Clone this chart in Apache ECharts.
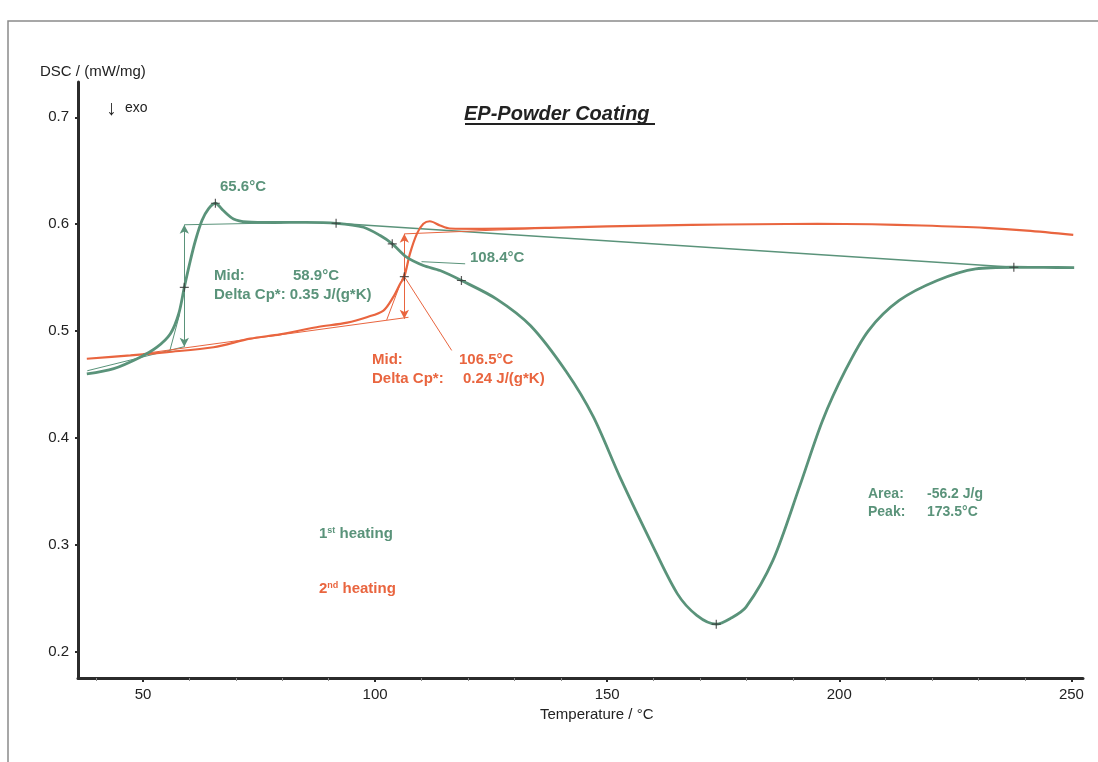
<!DOCTYPE html>
<html>
<head>
<meta charset="utf-8">
<script src="https://cdn.jsdelivr.net/npm/echarts@6/dist/echarts.min.js"></script>
<style>
html,body{margin:0;padding:0;background:#fff;}
#chart{width:1098px;height:762px;}
</style>
</head>
<body>
<div id="chart"></div>
<script>
// ---- data ----
const xTickLabels = [50, 100, 150, 200, 250];
const xMinorTicks = [40, 60, 70, 80, 90, 110, 120, 130, 140, 160, 170, 180, 190, 210, 220, 230, 240];
const yTickLabels = [0.2, 0.3, 0.4, 0.5, 0.6, 0.7];

const heat1T = [37.9, 43.7, 49.4, 53.0, 55.9, 57.7, 58.9, 60.2, 61.3, 62.7, 64.1, 65.6, 67.3, 69.5, 72.4, 78.1, 85, 91.6, 97.5, 101.1, 103.7, 106.8, 110.4, 114, 118.6, 126.2, 133.5, 141.2, 147, 152.7, 159.3, 165.1, 169.3, 173.5, 176.6, 179.9, 185.7, 191.4, 196.4, 201.3, 206.3, 212.9, 221.1, 229.4, 237.6, 244, 250.6];
const heat1V = [0.460, 0.465, 0.4757, 0.485, 0.4976, 0.5163, 0.541, 0.566, 0.5848, 0.6035, 0.6144, 0.6196, 0.6128, 0.605, 0.6022, 0.6016, 0.6017, 0.6009, 0.5972, 0.5894, 0.5817, 0.5692, 0.5614, 0.5567, 0.5474, 0.530, 0.505, 0.462, 0.420, 0.364, 0.304, 0.2546, 0.2343, 0.226, 0.2315, 0.242, 0.2857, 0.3542, 0.4165, 0.4633, 0.5006, 0.5287, 0.5474, 0.5583, 0.5598, 0.5596, 0.5595];

const heat2T = [37.9, 47.3, 55.2, 65.2, 73.1, 79.5, 87.4, 94, 98.2, 101.8, 103.9, 105.4, 106.3, 107.5, 109, 110.4, 111.8, 114, 116.1, 123, 137.6, 150, 168.2, 182, 195.3, 207, 217.8, 231.4, 240.4, 250.4];
const heat2V = [0.4742, 0.4773, 0.4804, 0.485, 0.4930, 0.4970, 0.5037, 0.508, 0.5131, 0.5193, 0.5318, 0.5443, 0.551, 0.5723, 0.591, 0.6004, 0.6028, 0.5988, 0.5960, 0.5957, 0.5966, 0.598, 0.5994, 0.6000, 0.6003, 0.6000, 0.5988, 0.5966, 0.5941, 0.5901];

// evaluation construction lines [T, value]
const g1UpperTangent = [[58.9, 0.5995], [80, 0.6013]];
const g1LowerTangent = [[38, 0.463], [58.9, 0.4855]];
const g1Inflection   = [[55.7, 0.4804], [57.9, 0.516]];
const g1Step         = [[58.9, 0.5995], [58.9, 0.4855]];
const g1PeakBaseline = [[91.6, 0.6009], [237.6, 0.5598]];
const g1OnsetLeader  = [[110, 0.5650], [119.4, 0.5630]];

const g2UpperTangent = [[106.3, 0.591], [137.6, 0.5966]];
const g2LowerTangent = [[50, 0.4790], [107.2, 0.513]];
const g2Inflection   = [[102.5, 0.5105], [106.8, 0.560]];
const g2Step         = [[106.3, 0.591], [106.3, 0.5116]];
const g2Leader       = [[106.3, 0.551], [116.5, 0.482]];

const markPts1 = [[65.6, 0.6196], [58.9, 0.541], [91.6, 0.6009], [103.7, 0.5817], [118.6, 0.5474], [173.5, 0.226], [237.6, 0.5598]];
const markPts2 = [[106.3, 0.551]];

// ---- styling ----
const GREEN = '#5a937a';
const ORANGE = '#e9653f';
const FONT = '"Liberation Sans", Arial, sans-serif';

const zip = (a, b) => a.map((t, i) => [t, b[i]]);

function thin(data, color, w) {
  return {
    type: 'line', data: data, showSymbol: false, silent: true,
    lineStyle: { color: color, width: w || 1 }, z: 3, animation: false
  };
}
function arrow(seg, color) {
  return {
    type: 'line', data: [], silent: true, animation: false,
    markLine: {
      silent: true, animation: false,
      symbol: ['arrow', 'arrow'], symbolSize: [7, 9],
      label: { show: false },
      lineStyle: { color: color, width: 1, type: 'solid' },
      emphasis: { disabled: true },
      data: [[{ coord: seg[0] }, { coord: seg[1] }]]
    }
  };
}

function txt(x, y, text, color, size, weight, rich) {
  const st = { x: x, y: y + 2, text: text, fill: color, verticalAlign: 'middle', align: 'left',
               font: (weight || 'bold') + ' ' + size + 'px ' + FONT };
  if (rich) st.rich = rich;
  return { type: 'text', silent: true, style: st };
}
function supRich(color) {
  return { s: { fontSize: 9, fontWeight: 'bold', fontFamily: FONT, fill: color, verticalAlign: 'top', padding: [0, 0, 7, 0] } };
}

const chart = echarts.init(document.getElementById('chart'), null, { renderer: 'canvas' });

const option = {
  backgroundColor: '#fff',
  animation: false,
  grid: { left: 78, right: 15, top: 82, bottom: 84, containLabel: false },
  xAxis: [{
    type: 'value', min: 36, max: 252.5,
    axisLine: { show: true, lineStyle: { color: '#2b2b2b', width: 3 } },
    axisTick: { show: true, customValues: xTickLabels, length: 4, inside: false, lineStyle: { color: '#2b2b2b', width: 2 } },
    axisLabel: { customValues: xTickLabels, color: '#222', fontSize: 15, fontFamily: FONT, margin: 9 },
    splitLine: { show: false }
  }, {
    type: 'value', min: 36, max: 252.5, position: 'bottom',
    axisLine: { show: false },
    axisTick: { show: true, customValues: xMinorTicks, length: 3, lineStyle: { color: '#888', width: 1 } },
    axisLabel: { show: false },
    splitLine: { show: false }
  }],
  yAxis: {
    type: 'value', min: 0.1757, max: 0.733,
    axisLine: { show: true, lineStyle: { color: '#2b2b2b', width: 3 } },
    axisTick: { show: true, customValues: yTickLabels, length: 3, lineStyle: { color: '#2b2b2b', width: 2 } },
    axisLabel: { customValues: yTickLabels, color: '#222', fontSize: 15, fontFamily: FONT, margin: 9,
                 formatter: v => v.toFixed(1) },
    splitLine: { show: false }
  },
  series: [
    thin(g1PeakBaseline, GREEN, 1.3),
    thin(g1UpperTangent, GREEN, 1),
    thin(g1LowerTangent, GREEN, 1),
    thin(g1Inflection, GREEN, 1),
    thin(g1OnsetLeader, GREEN, 1),
    thin(g2UpperTangent, ORANGE, 1),
    thin(g2LowerTangent, ORANGE, 1),
    thin(g2Inflection, ORANGE, 1),
    thin(g2Leader, ORANGE, 1),
    arrow(g1Step, GREEN),
    arrow(g2Step, ORANGE),
    {
      name: '2nd heating', type: 'line', data: zip(heat2T, heat2V), showSymbol: false,
      smooth: 0.3, lineStyle: { color: ORANGE, width: 2.2 }, z: 4, silent: true
    },
    {
      name: '1st heating', type: 'line', data: zip(heat1T, heat1V), showSymbol: false,
      smooth: 0.3, lineStyle: { color: GREEN, width: 2.8 }, z: 5, silent: true
    },
    {
      type: 'scatter', data: markPts1.concat(markPts2), silent: true, z: 10,
      symbol: 'path://M5,0L5,10M0,5L10,5', symbolSize: 9,
      itemStyle: { color: 'none', borderColor: '#333', borderWidth: 1.2 }
    }
  ],
  graphic: [
    { type: 'rect', silent: true, shape: { x: 8, y: 21, width: 1200, height: 900 },
      style: { fill: 'none', stroke: '#8a8a8a', lineWidth: 1.5 } },
    txt(40, 70, 'DSC / (mW/mg)', '#222', 15, 'normal'),
    txt(106, 107, '↓', '#222', 21, 'normal'),
    txt(125, 106, 'exo', '#222', 14, 'normal'),
    txt(464, 112, 'EP-Powder Coating', '#222', 20, 'italic bold'),
    { type: 'line', silent: true, shape: { x1: 465, y1: 124, x2: 655, y2: 124 }, style: { stroke: '#222', lineWidth: 1.8 } },
    txt(220, 185, '65.6°C', GREEN, 15),
    txt(214, 274, 'Mid:', GREEN, 15),
    txt(293, 274, '58.9°C', GREEN, 15),
    txt(214, 293, 'Delta Cp*: 0.35 J/(g*K)', GREEN, 15),
    txt(470, 256, '108.4°C', GREEN, 15),
    txt(372, 358, 'Mid:', ORANGE, 15),
    txt(459, 358, '106.5°C', ORANGE, 15),
    txt(372, 377, 'Delta Cp*:', ORANGE, 15),
    txt(463, 377, '0.24 J/(g*K)', ORANGE, 15),
    txt(868, 492, 'Area:', GREEN, 14),
    txt(927, 492, '-56.2 J/g', GREEN, 14),
    txt(868, 510, 'Peak:', GREEN, 14),
    txt(927, 510, '173.5°C', GREEN, 14),
    txt(319, 532, '1{s|st} heating', GREEN, 15, 'bold', supRich(GREEN)),
    txt(319, 587, '2{s|nd} heating', ORANGE, 15, 'bold', supRich(ORANGE)),
    txt(540, 713, 'Temperature / °C', '#222', 15, 'normal')
  ]
};
chart.setOption(option);
</script>
</body>
</html>
